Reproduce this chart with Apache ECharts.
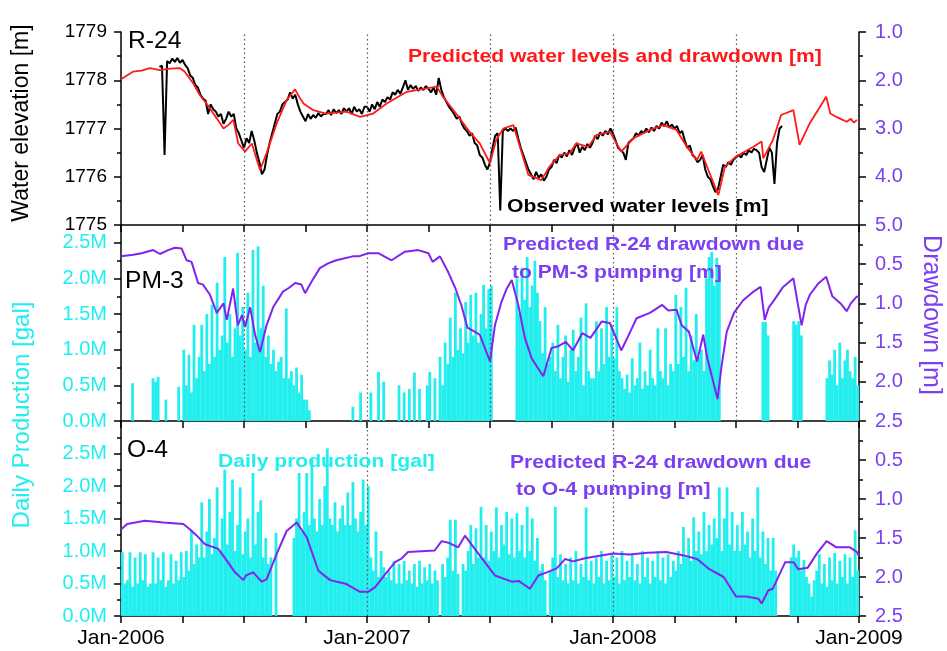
<!DOCTYPE html>
<html>
<head>
<meta charset="utf-8">
<script src="https://cdn.jsdelivr.net/npm/echarts@6/dist/echarts.min.js"></script>
<style>
html,body{margin:0;padding:0;background:#fff;}
#chart{width:947px;height:651px;}
</style>
</head>
<body>
<div id="chart"></div>
<script>
// ---- x is measured in months since Jan-2006 ----
const X_TICK_LABELS = ['Jan-2006', 'Jan-2007', 'Jan-2008', 'Jan-2009'];
const BAR_STEP = 0.125; // production values every 1/8 month
const OBS_START = 1.875; // observed record start (months)
const OBS_STEP = 0.125;

// Predicted water elevation [m] (red)
const PREDICTED = [[0,1778.02],[0.6,1778.18],[1.0,1778.2],[1.41,1778.25],[1.9,1778.21],[2.4,1778.24],[2.88,1778.25],[3.1,1778.18],[3.5,1777.95],[3.85,1777.69],[4.2,1777.5],[4.67,1777.21],[5.0,1777.0],[5.23,1777.07],[5.48,1777.18],[5.72,1776.69],[6.05,1776.52],[6.38,1776.69],[6.78,1776.14],[7.1,1776.49],[7.6,1777.11],[8.08,1777.59],[8.49,1777.81],[8.7,1777.65],[8.9,1777.52],[9.38,1777.38],[10.0,1777.31],[11.0,1777.35],[11.66,1777.24],[12.3,1777.31],[12.96,1777.52],[13.94,1777.76],[14.9,1777.83],[15.4,1777.87],[15.7,1777.66],[16.4,1777.28],[17.0,1776.93],[17.5,1776.69],[18.0,1776.28],[18.3,1776.76],[18.65,1777.0],[19.14,1777.07],[19.46,1776.62],[19.87,1776.04],[20.5,1775.93],[20.9,1776.21],[21.4,1776.45],[21.9,1776.49],[22.2,1776.69],[22.8,1776.62],[23.2,1776.87],[23.85,1776.93],[24.4,1776.52],[25.0,1776.8],[25.8,1776.97],[26.45,1777.07],[27.1,1776.97],[27.6,1776.62],[28.1,1776.35],[28.3,1776.52],[28.65,1776.14],[29.14,1775.62],[29.46,1776.21],[30.0,1776.42],[30.85,1776.62],[31.25,1776.73],[31.33,1776.38],[31.8,1776.76],[32.2,1777.28],[32.8,1777.38],[33.1,1776.66],[33.6,1777.11],[34.4,1777.66],[34.6,1777.31],[34.9,1777.24],[35.1,1777.2],[35.4,1777.14],[35.6,1777.2],[35.75,1777.12],[35.9,1777.18]];

// Observed water elevation [m] (black), every OBS_STEP months from OBS_START
const OBSERVED = [1778.28,
1778.30,1776.45,1778.40,1778.35,1778.45,1778.38,1778.46,1778.36,
1778.42,1778.32,1778.25,1778.10,1778.05,1777.90,1777.85,1777.70,
1777.62,1777.58,1777.30,1777.50,1777.40,1777.35,1777.25,1777.30,
1777.10,1777.20,1777.35,1777.25,1777.30,1777.00,1776.90,1776.75,
1776.60,1776.80,1776.70,1776.95,1776.75,1776.50,1776.30,1776.05,
1776.15,1776.45,1776.70,1776.90,1777.10,1777.30,1777.35,1777.50,
1777.55,1777.60,1777.75,1777.62,1777.70,1777.50,1777.35,1777.25,
1777.15,1777.30,1777.20,1777.28,1777.22,1777.32,1777.25,1777.30,
1777.30,1777.38,1777.28,1777.40,1777.32,1777.38,1777.30,1777.42,
1777.35,1777.42,1777.30,1777.45,1777.35,1777.40,1777.30,1777.45,
1777.45,1777.35,1777.50,1777.40,1777.55,1777.45,1777.60,1777.55,
1777.65,1777.60,1777.75,1777.70,1777.80,1777.72,1777.85,1778.00,
1777.80,1777.90,1777.82,1777.88,1777.78,1777.85,1777.80,1777.88,
1777.82,1777.75,1777.85,1777.70,1778.05,1777.80,1777.65,1777.55,
1777.45,1777.38,1777.30,1777.20,1777.25,1777.10,1777.00,1776.95,
1776.85,1776.90,1776.70,1776.65,1776.45,1776.40,1776.25,1776.15,
1776.30,1776.60,1776.85,1776.90,1775.30,1776.95,1777.00,1776.95,
1777.00,1776.95,1777.02,1776.80,1776.60,1776.45,1776.30,1776.15,
1776.05,1775.95,1776.10,1775.98,1776.05,1775.92,1776.00,1776.15,
1776.20,1776.35,1776.28,1776.45,1776.40,1776.50,1776.42,1776.55,
1776.45,1776.60,1776.70,1776.50,1776.62,1776.55,1776.68,1776.60,
1776.70,1776.85,1776.78,1776.92,1776.85,1776.95,1776.88,1777.00,
1776.90,1776.75,1776.60,1776.55,1776.50,1776.35,1776.70,1776.75,
1776.80,1776.90,1776.85,1776.95,1776.90,1777.00,1776.92,1777.02,
1776.95,1777.05,1777.00,1777.12,1777.05,1777.15,1777.02,1777.08,
1777.00,1777.05,1776.90,1776.95,1776.75,1776.60,1776.65,1776.45,
1776.40,1776.30,1776.35,1776.45,1776.15,1776.00,1775.95,1775.80,
1775.68,1775.75,1776.00,1776.25,1776.20,1776.30,1776.25,1776.35,
1776.40,1776.45,1776.40,1776.50,1776.45,1776.55,1776.50,1776.58,
1776.55,1776.50,1776.20,1776.10,1776.35,1776.60,1776.50,1775.85,
1776.70,1777.00,1777.05];

// PM-3 daily production [M gal], every BAR_STEP months (one row per month)
const PM3_PRODUCTION = [
0,0,0,0,0.53,0,0,0,
0,0,0,0,0.6,0.55,0.62,0,
0,0.3,0,0,0,0,0.48,0,
1.0,0.5,0.93,0.4,1.35,0.6,0.9,1.35,
0.7,1.5,0.8,1.63,0.9,1.94,1.0,1.2,
2.3,1.1,1.5,0.9,1.3,2.36,1.2,1.6,
1.0,1.8,0.9,2.4,1.1,2.45,1.3,1.9,
0.9,1.2,0.8,1.0,0.7,0.83,0.9,0.6,
1.58,0.6,0.7,0.5,0.75,0.4,0.65,0.3,
0.3,0.15,0,0,0,0,0,0,
0,0,0,0,0,0,0,0,
0,0,0.2,0,0,0.4,0,0,
0,0.4,0,0,0.69,0,0.55,0,
0,0,0,0,0.5,0,0.4,0,
0.45,0,0.68,0,0.45,0,0,0.5,
0.69,0,0.6,0,0.9,0.5,1.1,0.8,
1.45,0.9,1.8,1.0,1.3,0.95,1.67,1.1,
1.77,1.2,1.8,1.1,1.5,1.91,1.3,1.85,
1.9,0,0,0,0,0,0,0,
0,0,2.0,1.5,2.15,1.7,2.3,1.6,
1.9,2.25,1.8,1.4,0.95,1.6,0.8,0.9,
1.1,0.7,1.35,0.6,0.9,1.2,0.55,1.0,
1.28,0.7,0.9,1.45,0.5,1.65,0.7,0.6,
0.6,1.4,0.7,1.3,0.8,1.6,0.9,1.35,
0.88,1.6,0.7,0.6,0.45,0.65,0.4,0.88,
0.5,0.6,1.1,0.45,0.7,0.5,1.0,0.6,
0.5,1.3,0.7,0.6,1.3,0.5,0.8,0.7,
1.77,0.8,1.6,0.9,1.87,0.7,1.2,0.85,
1.5,0.9,1.0,0.7,2.0,2.3,2.37,1.9,
2.29,2.1,0,0,0,0,0,0,
0,0,0,0,0,0,0,0,
0,0,1.39,1.39,1.2,0,0,0,
0,0,0,0,0,0,1.4,1.35,
1.4,1.2,0,0,0,0,0,0,
0,0,0,0.6,0.85,0.65,1.0,0.5,
1.1,0.6,0.85,1.0,0.7,0.6,0.9,0.5];

// O-4 daily production [M gal]
const O4_PRODUCTION = [
0.98,0.5,0.55,0.98,0.45,0.9,0.5,0.98,
0.55,0.95,0.45,0.5,0.98,0.5,0.9,0.55,
0.98,0.45,0.55,0.95,0.5,0.85,0.55,0.98,
0.6,1.0,0.7,1.32,0.8,1.1,0.9,1.75,
0.9,1.3,1.8,0.95,1.2,1.98,1.0,1.5,
2.25,1.1,1.6,2.1,1.0,1.4,1.98,0.95,
1.3,1.5,0.9,2.2,1.1,1.6,1.78,0.9,
1.2,0.8,0.9,0,1.28,0,0,0,
0,0,0,1.2,1.5,2.2,1.3,1.6,
2.2,1.4,2.4,1.5,1.3,1.8,1.4,2.0,
2.58,1.5,1.4,1.75,1.3,1.5,1.7,1.4,
1.9,1.4,2.06,1.5,1.3,1.6,2.1,1.4,
2.0,0.9,0.7,1.3,0.6,1.0,0.75,0.6,
0.7,0.55,0.85,0.5,0.8,0.5,0.85,0.55,
0.7,0.5,0.8,0.45,0.85,0.5,0.75,0.55,
0.8,0.5,0.7,0.55,0,0.8,0.6,0.9,
1.48,0.7,1.48,0.65,0,0.8,0.7,1.0,
1.4,0.8,1.35,0.9,1.68,0.9,1.4,0.85,
1.3,1.0,1.67,0.9,1.4,1.1,1.6,0.95,
1.5,0.9,1.58,1.0,1.4,0.9,1.68,1.0,
1.5,0.85,1.2,0.7,0.8,0.55,0,0.7,
0.9,1.68,0.6,0.95,0.55,0.8,0.5,0.9,
0.55,1.0,0.5,0.8,0.6,1.67,0.55,0.85,
0.5,0.9,0.6,1.0,0.5,0.85,0.55,0.95,
0.6,0.9,0.5,1.0,0.55,0.85,0.6,0.95,
0.55,0.8,0.5,1.0,0.6,0.9,0.5,0.85,
0.6,1.0,0.55,0.9,0.5,0.95,0.6,0.85,
0.7,1.0,0.8,1.37,0.9,1.2,0.85,1.52,
1.0,1.3,0.95,1.6,1.0,1.4,1.1,1.5,
1.2,1.98,1.0,1.5,1.98,1.1,1.6,1.0,
1.4,1.0,1.6,1.1,1.3,0.9,1.5,1.0,
1.98,0.9,1.3,0.8,1.2,0.7,1.2,0.7,
0,0,0,0,0,0.9,1.1,0.9,
1.0,0.7,0.86,0.6,0.5,0.3,0.55,0.7,
0.95,0.5,0.8,0.45,0.9,0.55,0.97,0.5,
0.85,0.6,0.95,0.5,0.9,0.6,1.32,0.7];

// Predicted R-24 drawdown due to PM-3 pumping [m]
const PM3_DRAWDOWN = [[0,0.40],[0.6,0.38],[1.0,0.36],[1.57,0.32],[1.9,0.37],[2.3,0.32],[2.63,0.29],[2.96,0.30],[3.2,0.45],[3.44,0.47],[3.76,0.74],[4.0,0.76],[4.34,0.89],[4.67,1.12],[5.0,1.0],[5.16,1.21],[5.47,0.81],[5.7,1.28],[5.9,1.15],[6.05,1.30],[6.3,1.05],[6.54,1.40],[6.78,1.62],[7.1,1.28],[7.42,1.05],[7.9,0.85],[8.2,0.80],[8.5,0.74],[8.8,0.76],[8.98,0.87],[9.3,0.72],[9.7,0.55],[10.1,0.49],[10.5,0.45],[11.3,0.40],[11.6,0.40],[12.05,0.36],[12.55,0.36],[13.2,0.45],[13.85,0.34],[14.5,0.32],[15.0,0.36],[15.2,0.47],[15.56,0.40],[15.96,0.60],[16.3,0.80],[16.6,1.02],[16.9,1.31],[17.25,1.36],[17.5,1.40],[18.0,1.74],[18.24,1.28],[18.56,0.98],[18.8,0.82],[19.06,0.70],[19.38,1.02],[19.7,1.44],[20.03,1.70],[20.35,1.83],[20.6,1.93],[21.0,1.57],[21.3,1.55],[21.7,1.49],[22.05,1.60],[22.5,1.38],[22.9,1.44],[23.45,1.23],[23.85,1.25],[24.4,1.60],[24.7,1.44],[25.15,1.19],[25.8,1.12],[26.4,1.02],[26.7,1.09],[27.1,1.08],[27.35,1.28],[27.7,1.36],[28.1,1.74],[28.4,1.40],[28.6,1.70],[29.1,2.22],[29.3,1.79],[29.55,1.36],[29.9,1.12],[30.35,0.96],[30.8,0.86],[31.2,0.79],[31.4,1.21],[31.6,1.05],[31.8,0.98],[32.3,0.79],[32.8,0.68],[33.2,1.28],[33.4,1.02],[33.6,0.89],[34.0,0.75],[34.4,0.66],[34.7,0.91],[35.1,1.0],[35.4,1.1],[35.6,1.0],[35.9,0.91],[36,0.92]];

// Predicted R-24 drawdown due to O-4 pumping [m]
const O4_DRAWDOWN = [[0,1.39],[0.3,1.32],[1.17,1.28],[2.07,1.30],[3.04,1.32],[3.37,1.39],[3.7,1.47],[4.1,1.58],[4.75,1.64],[5.16,1.79],[5.56,1.94],[5.97,2.04],[6.1,1.98],[6.45,1.94],[6.86,2.06],[7.1,2.03],[7.6,1.70],[8.08,1.41],[8.57,1.30],[9.06,1.49],[9.63,1.92],[10.2,2.04],[11.0,2.09],[11.66,2.19],[12.05,2.19],[12.4,2.13],[12.9,1.96],[13.37,1.81],[13.7,1.76],[14.0,1.68],[15.3,1.66],[15.64,1.54],[15.97,1.56],[16.45,1.62],[16.78,1.47],[17.43,1.70],[18.24,1.98],[19.06,2.06],[19.4,2.05],[19.95,2.15],[20.36,1.98],[20.77,1.94],[21.25,1.89],[21.66,1.77],[22.06,1.80],[22.63,1.76],[23.28,1.73],[24.0,1.70],[24.8,1.71],[25.7,1.69],[26.6,1.68],[27.4,1.72],[28.1,1.77],[28.7,1.90],[29.4,2.0],[30.0,2.25],[30.5,2.25],[31.1,2.28],[31.25,2.34],[31.58,2.17],[31.8,2.15],[32.4,1.81],[32.8,1.81],[33.04,1.90],[33.5,1.88],[33.94,1.70],[34.42,1.54],[34.9,1.62],[35.56,1.62],[35.9,1.68],[36,1.73]];

const DOTTED_TOP = [6, 12, 18, 24, 30];
const DOTTED_MID = [6, 12, 18, 24, 30];
const DOTTED_BOT = [12, 24];

// ---- build ----
const RED = '#FF1A1A', CYAN = '#22EEEE', PURPLE = '#8024EE', PURPLE_TXT = '#7A40F2';
const FONT = 'Liberation Sans, Arial, sans-serif';

const obsData = OBSERVED.map((v, i) => [OBS_START + i * OBS_STEP, v]);
const pm3Bars = PM3_PRODUCTION.map((v, i) => [(i + 0.5) * BAR_STEP, v]);
const o4Bars = O4_PRODUCTION.map((v, i) => [(i + 0.5) * BAR_STEP, v]);

function xAxisFor(grid, showLabels) {
  return {
    type: 'value', gridIndex: grid, min: 0, max: 36, interval: 3,
    axisLine: { show: true, lineStyle: { color: '#000', width: 1.5 } },
    axisTick: { show: true, inside: false, length: 7, lineStyle: { color: '#000', width: 1.5 } },
    splitLine: { show: false },
    axisLabel: {
      show: showLabels, margin: 12, color: '#000', fontSize: 21, fontFamily: FONT,
      formatter: v => (Math.abs(v % 12) < 1e-6 ? X_TICK_LABELS[Math.round(v / 12)] : '')
    }
  };
}
function yAxisFor(grid, pos, opt) {
  return Object.assign({
    type: 'value', gridIndex: grid, position: pos,
    axisLine: { show: true, onZero: false, lineStyle: { color: '#000', width: 1.5 } },
    axisTick: { show: true, inside: false, length: 7, lineStyle: { color: '#000', width: 1.5 } },
    minorTick: { show: true, splitNumber: 2, length: 4, lineStyle: { color: '#000', width: 1.5 } },
    splitLine: { show: false }
  }, opt);
}
function dotted(xi, yi, list) {
  return {
    type: 'line', xAxisIndex: xi, yAxisIndex: yi, data: [], z: 1, silent: true,
    markLine: {
      silent: true, symbol: 'none', animation: false, label: { show: false },
      lineStyle: { type: [1.5, 3], color: '#555', width: 1.2 },
      data: list.map(v => ({ xAxis: v }))
    }
  };
}

const option = {
  animation: false,
  backgroundColor: '#fff',
  grid: [
    { left: 121, right: 88, top: 32, height: 193 },
    { left: 121, right: 88, top: 225, height: 196 },
    { left: 121, right: 88, top: 421, height: 195 }
  ],
  xAxis: [xAxisFor(0, false), xAxisFor(1, false), xAxisFor(2, true)],
  yAxis: [
    yAxisFor(0, 'left', { min: 1775, max: 1779, interval: 1,
      axisLabel: { color: '#000', fontSize: 19, fontFamily: FONT, margin: 14, formatter: v => String(v) } }),
    yAxisFor(0, 'right', { min: 1, max: 5, interval: 1, inverse: true,
      axisLabel: { color: PURPLE_TXT, fontSize: 20, fontFamily: FONT, margin: 16, formatter: v => v.toFixed(1) } }),
    yAxisFor(1, 'left', { min: 0, max: 2.75, interval: 0.5,
      axisLabel: { color: CYAN, fontSize: 20, fontFamily: FONT, margin: 14,
        formatter: v => (v <= 2.5 + 1e-9 ? v.toFixed(1) + 'M' : '') } }),
    yAxisFor(1, 'right', { min: 0, max: 2.5, interval: 0.5, inverse: true,
      axisLabel: { color: PURPLE_TXT, fontSize: 20, fontFamily: FONT, margin: 16,
        formatter: v => (v > 0 ? v.toFixed(1) : '') } }),
    yAxisFor(2, 'left', { min: 0, max: 3, interval: 0.5,
      axisLabel: { color: CYAN, fontSize: 20, fontFamily: FONT, margin: 14,
        formatter: v => (v <= 2.5 + 1e-9 ? v.toFixed(1) + 'M' : '') } }),
    yAxisFor(2, 'right', { min: 0, max: 2.5, interval: 0.5, inverse: true,
      axisLabel: { color: PURPLE_TXT, fontSize: 20, fontFamily: FONT, margin: 16,
        formatter: v => (v > 0 ? v.toFixed(1) : '') } })
  ],
  series: [
    dotted(0, 0, DOTTED_TOP),
    dotted(1, 2, DOTTED_MID),
    dotted(2, 4, DOTTED_BOT),
    { type: 'line', name: 'Observed', xAxisIndex: 0, yAxisIndex: 0, data: obsData, z: 3,
      showSymbol: false, symbol: 'none', lineStyle: { color: '#000', width: 2 } },
    { type: 'line', name: 'Predicted', xAxisIndex: 0, yAxisIndex: 0, data: PREDICTED, z: 4,
      showSymbol: false, symbol: 'none', lineStyle: { color: RED, width: 1.8 } },
    { type: 'bar', name: 'PM-3 production', xAxisIndex: 1, yAxisIndex: 2, data: pm3Bars, z: 2,
      barWidth: 2.8, itemStyle: { color: CYAN } },
    { type: 'line', name: 'PM-3 drawdown', xAxisIndex: 1, yAxisIndex: 3, data: PM3_DRAWDOWN, z: 4,
      showSymbol: false, symbol: 'none', lineStyle: { color: PURPLE, width: 2 } },
    { type: 'bar', name: 'O-4 production', xAxisIndex: 2, yAxisIndex: 4, data: o4Bars, z: 2,
      barWidth: 2.8, itemStyle: { color: CYAN } },
    { type: 'line', name: 'O-4 drawdown', xAxisIndex: 2, yAxisIndex: 5, data: O4_DRAWDOWN, z: 4,
      showSymbol: false, symbol: 'none', lineStyle: { color: PURPLE, width: 2 } }
  ],
  graphic: [
    { type: 'text', x: 22, y: 123, rotation: Math.PI / 2, z: 10,
      style: { text: 'Water elevation [m]', font: 'normal 23px ' + FONT, fill: '#000', textAlign: 'center', textVerticalAlign: 'middle' } },
    { type: 'text', x: 22, y: 415, rotation: Math.PI / 2, z: 10,
      style: { text: 'Daily Production [gal]', font: 'normal 24px ' + FONT, fill: CYAN, textAlign: 'center', textVerticalAlign: 'middle' } },
    { type: 'text', x: 931, y: 315, rotation: -Math.PI / 2, z: 10,
      style: { text: 'Drawdown [m]', font: 'normal 25px ' + FONT, fill: PURPLE_TXT, textAlign: 'center', textVerticalAlign: 'middle' } },
    { type: 'text', x: 128, y: 42, z: 10, scaleX: 1.07,
      style: { text: 'R-24', font: 'normal 23px ' + FONT, fill: '#000', textAlign: 'left', textVerticalAlign: 'middle' } },
    { type: 'text', x: 125, y: 282, z: 10, scaleX: 1.07,
      style: { text: 'PM-3', font: 'normal 23px ' + FONT, fill: '#000', textAlign: 'left', textVerticalAlign: 'middle' } },
    { type: 'text', x: 127, y: 451, z: 10, scaleX: 1.07,
      style: { text: 'O-4', font: 'normal 23px ' + FONT, fill: '#000', textAlign: 'left', textVerticalAlign: 'middle' } },
    { type: 'text', x: 408, y: 57, z: 10, scaleX: 1.11,
      style: { text: 'Predicted water levels and drawdown [m]', font: 'bold 19px ' + FONT, fill: RED, textAlign: 'left', textVerticalAlign: 'middle' } },
    { type: 'text', x: 507, y: 207, z: 10, scaleX: 1.11,
      style: { text: 'Observed water levels [m]', font: 'bold 19px ' + FONT, fill: '#000', textAlign: 'left', textVerticalAlign: 'middle' } },
    { type: 'text', x: 503, y: 245, z: 10, scaleX: 1.11,
      style: { text: 'Predicted R-24 drawdown due', font: 'bold 19px ' + FONT, fill: PURPLE_TXT, textAlign: 'left', textVerticalAlign: 'middle' } },
    { type: 'text', x: 512, y: 273, z: 10, scaleX: 1.11,
      style: { text: 'to PM-3 pumping [m]', font: 'bold 19px ' + FONT, fill: PURPLE_TXT, textAlign: 'left', textVerticalAlign: 'middle' } },
    { type: 'text', x: 218, y: 462, z: 10, scaleX: 1.11,
      style: { text: 'Daily production [gal]', font: 'bold 19px ' + FONT, fill: CYAN, textAlign: 'left', textVerticalAlign: 'middle' } },
    { type: 'text', x: 510, y: 463, z: 10, scaleX: 1.11,
      style: { text: 'Predicted R-24 drawdown due', font: 'bold 19px ' + FONT, fill: PURPLE_TXT, textAlign: 'left', textVerticalAlign: 'middle' } },
    { type: 'text', x: 516, y: 490, z: 10, scaleX: 1.11,
      style: { text: 'to O-4 pumping [m]', font: 'bold 19px ' + FONT, fill: PURPLE_TXT, textAlign: 'left', textVerticalAlign: 'middle' } }
  ]
};

const chart = echarts.init(document.getElementById('chart'), null, { renderer: 'canvas' });
chart.setOption(option);
</script>
</body>
</html>
